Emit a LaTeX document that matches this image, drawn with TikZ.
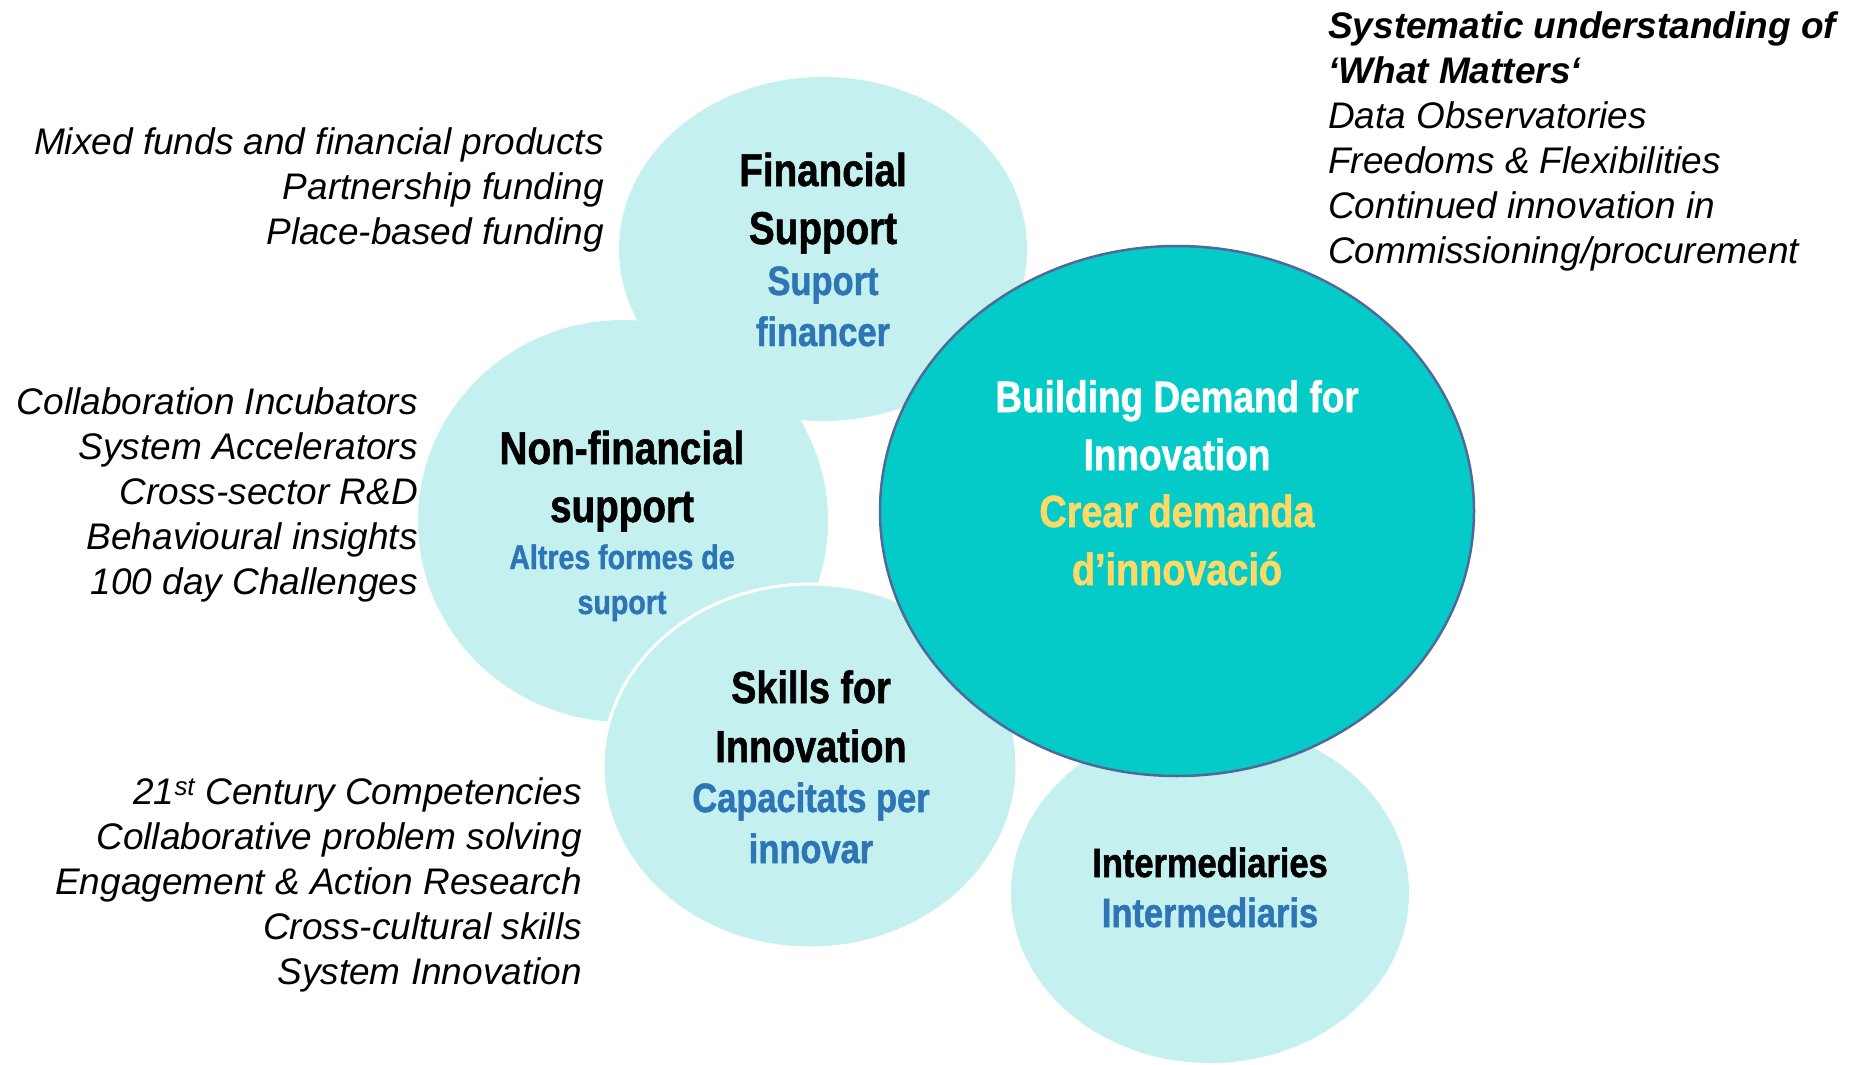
\documentclass[tikz,border=0pt]{standalone}
\usepackage{fontspec}
\setmainfont{Liberation Sans}
\newfontfamily\condfont[FakeStretch=0.84, BoldFeatures={FakeBold=1.2}]{Liberation Sans}
\usetikzlibrary{shapes.geometric}
\definecolor{bubble}{HTML}{C4F0F0}
\definecolor{core}{HTML}{04CBC7}
\definecolor{coreline}{HTML}{4F6A9A}
\definecolor{bluetxt}{HTML}{2E75B6}
\definecolor{goldtxt}{HTML}{FFD966}
\begin{document}
\begin{tikzpicture}[x=1pt,y=-1pt,
  bub/.style={ellipse, fill=bubble, draw=none, inner sep=0pt},
  ttl/.style={font=\condfont\bfseries\fontsize{#1}{#1}\selectfont, anchor=base, inner sep=0pt},
  sub/.style={ttl=#1, text=bluetxt},
  gold/.style={ttl=#1, text=goldtxt},
  wht/.style={ttl=#1, text=white},
  lst/.style={font=\itshape\fontsize{37}{45}\selectfont, inner sep=0pt}]
\useasboundingbox (0,0) rectangle (1856,1065);
% bubbles
\node[bub, minimum width=398pt, minimum height=340pt] (inter) at (1210,893) {};
\node[bub, minimum width=408pt, minimum height=344pt] (fin) at (823,249) {};
\node[bub, minimum width=410pt, minimum height=402pt] (nonfin) at (623,521) {};
\node[bub, draw=white, line width=3pt, minimum width=414pt, minimum height=364pt] (skills) at (810,766) {};
\node[ellipse, fill=core, draw=coreline, line width=2.5pt, inner sep=0pt, minimum width=594pt, minimum height=530pt] (core) at (1177,511) {};
% Financial support
\node[ttl=46] (f1) at (823,186) {Financial};
\node[ttl=46] (f2) at (823,244) {Support};
\node[sub=41] (f3) at (823,295) {Suport};
\node[sub=41] (f4) at (823,346) {financer};
% Non-financial
\node[ttl=46] (n1) at (622,464) {Non-financial};
\node[ttl=46] (n2) at (622,522) {support};
\node[sub=34] (n3) at (622,569) {Altres formes de};
\node[sub=34] (n4) at (622,614) {suport};
% Skills
\node[ttl=45] (s1) at (811,703) {Skills for};
\node[ttl=45] (s2) at (811,762) {Innovation};
\node[sub=41] (s3) at (811,812) {Capacitats per};
\node[sub=41] (s4) at (811,863) {innovar};
% Core
\node[wht=44] (c1) at (1177,412) {Building Demand for};
\node[wht=44] (c2) at (1177,470) {Innovation};
\node[gold=45] (c3) at (1177,527) {Crear demanda};
\node[gold=45] (c4) at (1177,585) {d’innovació};
% Intermediaries
\node[ttl=41] (i1) at (1210,877) {Intermediaries};
\node[sub=41] (i2) at (1210,927) {Intermediaris};
% lists
\node[lst, align=right, anchor=east] (lfin) at (604,190) {Mixed funds and financial products\\Partnership funding\\Place-based funding};
\node[lst, align=right, anchor=east] (lnon) at (418,495) {Collaboration Incubators\\System Accelerators\\Cross-sector R\&D\\Behavioural insights\\100 day Challenges};
\node[lst, align=right, anchor=east] (lski) at (582,885) {21\textsuperscript{st} Century Competencies\\Collaborative problem solving\\Engagement \& Action Research\\Cross-cultural skills\\System Innovation};
\node[lst, align=left, anchor=west] (lcore) at (1328,141) {\textbf{Systematic understanding of}\\\textbf{‘What Matters‘}\\Data Observatories\\Freedoms \& Flexibilities\\Continued innovation in\\Commissioning/procurement};
\end{tikzpicture}
\end{document}
